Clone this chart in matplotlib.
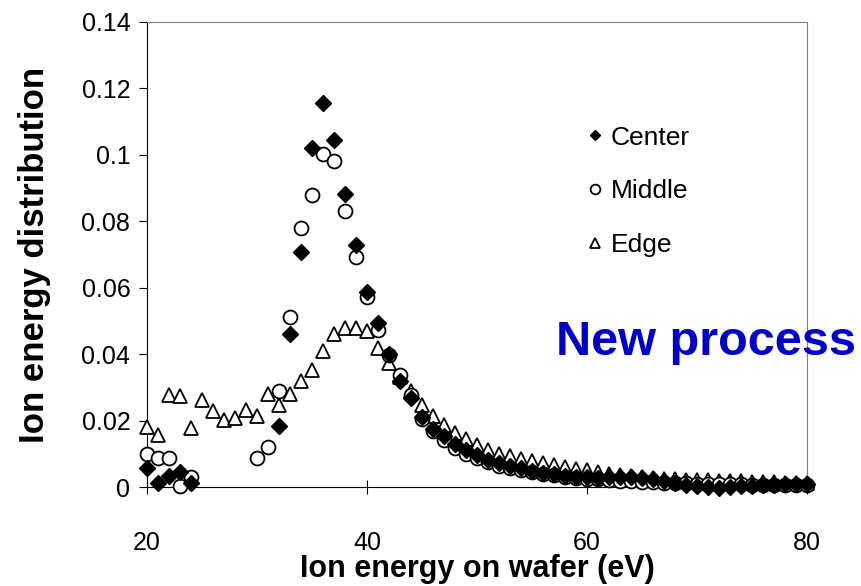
import numpy as np
import matplotlib
matplotlib.use("Agg")
import matplotlib.pyplot as plt

plt.rcParams['font.family'] = ['Liberation Sans', 'DejaVu Sans']

# Ion energy (eV)
energy = list(range(20, 81))

nan = np.nan
# Center (filled diamonds)
center = [0.0056, 0.0011, 0.0034, 0.0046, 0.0011, nan, nan, nan, nan, nan,
          nan, nan, 0.0184, 0.0462, 0.0707, 0.1020, 0.1157, 0.1044, 0.0882, 0.0729,
          0.0587, 0.0494, 0.0400, 0.0320, 0.0268, 0.0211, 0.0175, 0.0155, 0.0131, 0.0111,
          0.0096, 0.0081, 0.0071, 0.0063, 0.0056, 0.0049, 0.0043, 0.0038, 0.0034, 0.0031,
          0.0029, 0.0028, 0.0029, 0.0030, 0.0029, 0.0027, 0.0024, 0.0018, 0.0012, 0.0006,
          0.0002, 0.0000, -0.0002, 0.0000, 0.0002, 0.0004, 0.0006, 0.0007, 0.0008, 0.0009,
          0.0010]
# Middle (open circles)
middle = [0.0098, 0.0088, 0.0088, 0.0004, 0.0031, nan, nan, nan, nan, nan,
          0.0086, 0.0121, 0.0288, 0.0512, 0.0780, 0.0879, 0.1004, 0.0982, 0.0830, 0.0692,
          0.0572, 0.0472, 0.0398, 0.0336, 0.0276, 0.0205, 0.0168, 0.0141, 0.0118, 0.0099,
          0.0087, 0.0074, 0.0064, 0.0056, 0.0050, 0.0044, 0.0039, 0.0035, 0.0031, 0.0028,
          0.0025, 0.0023, 0.0021, 0.0019, 0.0017, 0.0016, 0.0014, 0.0013, 0.0012, 0.0011,
          0.0010, 0.0009, 0.0009, 0.0008, 0.0008, 0.0007, 0.0007, 0.0006, 0.0006, 0.0006,
          0.0005]
# Edge (open triangles)
edge = [0.0181, 0.0156, 0.0276, 0.0274, 0.0178, 0.0263, 0.0229, 0.0201, 0.0209, 0.0233,
        0.0213, 0.0279, 0.0246, 0.0279, 0.0319, 0.0353, 0.0409, 0.0462, 0.0478, 0.0480,
        0.0470, 0.0420, 0.0373, 0.0330, 0.0288, 0.0246, 0.0214, 0.0188, 0.0162, 0.0146,
        0.0127, 0.0112, 0.0100, 0.0093, 0.0085, 0.0078, 0.0072, 0.0066, 0.0060, 0.0055,
        0.0050, 0.0045, 0.0040, 0.0036, 0.0032, 0.0029, 0.0027, 0.0025, 0.0023, 0.0022,
        0.0021, 0.0020, 0.0019, 0.0018, 0.0017, 0.0016, 0.0015, 0.0014, 0.0013, 0.0013,
        0.0012]

fig = plt.figure(figsize=(8.61, 5.86), dpi=100)
ax = fig.add_axes([0.1707, 0.1689, 0.7666, 0.7936])

ax.plot(energy, edge, linestyle='none', marker='^', markersize=10, clip_on=False,
        markerfacecolor='white', markeredgecolor='black', markeredgewidth=1.3, label='Edge', zorder=3)
ax.plot(energy, middle, linestyle='none', marker='o', markersize=10, clip_on=False,
        markerfacecolor='white', markeredgecolor='black', markeredgewidth=1.3, label='Middle', zorder=4)
ax.plot(energy, center, linestyle='none', marker='D', markersize=8, clip_on=False,
        markerfacecolor='black', markeredgecolor='black', label='Center', zorder=5)

ax.set_xlim(20, 80)
ax.set_ylim(0, 0.14)
ax.set_xticks([20, 40, 60, 80])
ax.set_yticks(np.arange(0, 0.141, 0.02))
ax.set_yticklabels(['0', '0.02', '0.04', '0.06', '0.08', '0.1', '0.12', '0.14'])
ax.tick_params(axis='y', direction='out', length=6, labelsize=18, pad=6)
ax.tick_params(axis='x', direction='inout', length=10, labelsize=18, pad=27)
for s in ['top', 'right']:
    ax.spines[s].set_color('#808080')
ax.spines['left'].set_color('black')
ax.spines['bottom'].set_color('black')

ax.set_xlabel('Ion energy on wafer (eV)', fontsize=22, fontweight='bold', labelpad=-1)
ax.set_ylabel('Ion energy distribution', fontsize=25, fontweight='bold', labelpad=22)

handles, labels = ax.get_legend_handles_labels()
order = [2, 1, 0]
leg = ax.legend([handles[i] for i in order], [labels[i] for i in order],
                loc='upper left', bbox_to_anchor=(0.654, 0.826), bbox_transform=fig.transFigure,
                frameon=False, fontsize=19, markerscale=0.7, handlelength=0.6,
                handletextpad=0.3, labelspacing=1.12)

fig.text(0.82, 0.416, 'New process', color='#0000CC', fontsize=35,
         fontweight='bold', ha='center', va='center')

fig.savefig('out.png', dpi=100)
